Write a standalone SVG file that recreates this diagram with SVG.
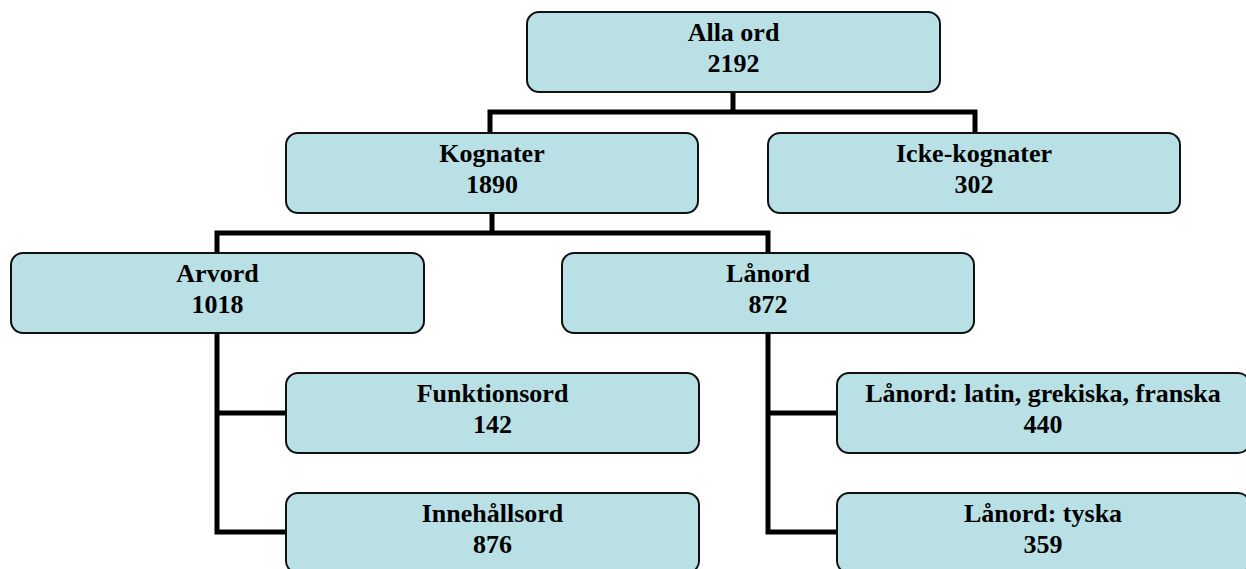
<svg xmlns="http://www.w3.org/2000/svg" width="1246" height="569" viewBox="0 0 1246 569">
<style>
.box{fill:#b9e0e4;stroke:#111;stroke-width:2}
.t{font-family:"Liberation Serif","Times New Roman",serif;font-weight:bold;font-size:26px;fill:#000;text-anchor:middle}
.c{fill:none;stroke:#000;stroke-width:5;stroke-linejoin:miter;stroke-linecap:square}
</style>
<rect width="1246" height="569" fill="#fff"/>
<g id="connectors">
<path class="c" d="M733 93V112M490 133V112H975V133"/>
<path class="c" d="M492 213V233M217 253V233H768V253"/>
<path class="c" d="M217 333V532H286M217 413H286"/>
<path class="c" d="M768 333V532H837M768 413H837"/>
</g>
<g id="alla"><rect class="box" x="527" y="12" width="413" height="80" rx="12"/><text class="t" x="733.5" y="41">Alla ord</text><text class="t" x="733.5" y="72">2192</text></g>
<g id="kognater"><rect class="box" x="286" y="133" width="412" height="80" rx="12"/><text class="t" x="492" y="162">Kognater</text><text class="t" x="492" y="193">1890</text></g>
<g id="icke"><rect class="box" x="768" y="133" width="412" height="80" rx="12"/><text class="t" x="974" y="162">Icke-kognater</text><text class="t" x="974" y="193">302</text></g>
<g id="arvord"><rect class="box" x="11" y="253" width="413" height="80" rx="12"/><text class="t" x="217.5" y="282">Arvord</text><text class="t" x="217.5" y="313">1018</text></g>
<g id="lanord"><rect class="box" x="562" y="253" width="412" height="80" rx="12"/><text class="t" x="768" y="282">Lånord</text><text class="t" x="768" y="313">872</text></g>
<g id="funktionsord"><rect class="box" x="286" y="373" width="413" height="80" rx="12"/><text class="t" x="492.5" y="402">Funktionsord</text><text class="t" x="492.5" y="433">142</text></g>
<g id="innehallsord"><rect class="box" x="286" y="493" width="413" height="80" rx="12"/><text class="t" x="492.5" y="522">Innehållsord</text><text class="t" x="492.5" y="553">876</text></g>
<g id="latin"><rect class="box" x="837" y="373" width="413" height="80" rx="12"/><text class="t" x="1043" y="402">Lånord: latin, grekiska, franska</text><text class="t" x="1043" y="433">440</text></g>
<g id="tyska"><rect class="box" x="837" y="493" width="413" height="80" rx="12"/><text class="t" x="1043" y="522">Lånord: tyska</text><text class="t" x="1043" y="553">359</text></g>
</svg>
